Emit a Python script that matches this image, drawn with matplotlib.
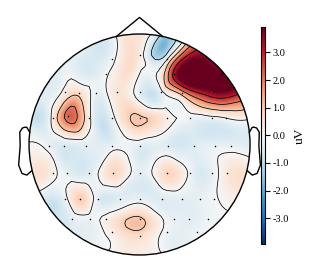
import numpy as np
import matplotlib
matplotlib.use("Agg")
import matplotlib.pyplot as plt
import matplotlib.tri as mtri
from matplotlib.patches import Circle

plt.rcParams['font.family'] = ['Liberation Serif', 'DejaVu Serif']
plt.rcParams['axes.unicode_minus'] = False

# sensor layout (head radius = 1, nose up) and amplitudes in uV
ch_names = ['Fp1', 'Fpz', 'Fp2', 'AF3', 'AF4', 'AF8',
            'F7', 'F5', 'F3', 'F1', 'Fz', 'F2', 'F4', 'F8',
            'FT7', 'FC5', 'FC3', 'FC1', 'FCz', 'FC2', 'FC4', 'FC6', 'FT8',
            'T7', 'C5', 'C3', 'C1', 'Cz', 'C2', 'C4', 'C6', 'T8',
            'TP7', 'CP5', 'CP3', 'CP1', 'CPz', 'CP2', 'CP4', 'CP6', 'TP8',
            'P7', 'P5', 'P3', 'P1', 'Pz', 'P2', 'P4', 'P6', 'P8',
            'PO7', 'PO5', 'PO3', 'POz', 'PO4', 'PO6', 'PO8',
            'O1', 'Oz', 'O2', 'PO10']
ch_x = [-0.25, 0.00, 0.25, -0.30, 0.31, 0.74,
        -0.67, -0.55, -0.39, -0.20, 0.00, 0.19, 0.38, 0.67,
        -0.78, -0.65, -0.46, -0.25, 0.00, 0.25, 0.46, 0.66, 0.78,
        -0.82, -0.68, -0.48, -0.25, 0.00, 0.26, 0.49, 0.68, 0.83,
        -0.78, -0.66, -0.46, -0.24, 0.00, 0.25, 0.46, 0.66, 0.79,
        -0.67, -0.54, -0.38, -0.18, 0.00, 0.20, 0.38, 0.55, 0.67,
        -0.61, -0.45, -0.30, 0.00, 0.31, 0.45, 0.62,
        -0.25, 0.00, 0.25, 0.52]
ch_y = [0.77, 0.81, 0.77, 0.64, 0.64, 0.64,
        0.475, 0.47, 0.47, 0.475, 0.475, 0.475, 0.47, 0.485,
        0.24, 0.26, 0.24, 0.24, 0.24, 0.24, 0.24, 0.24, 0.24,
        -0.01, -0.01, -0.01, -0.01, -0.01, -0.01, -0.01, -0.01, -0.01,
        -0.26, -0.26, -0.26, -0.26, -0.26, -0.26, -0.26, -0.26, -0.26,
        -0.49, -0.49, -0.49, -0.49, -0.49, -0.49, -0.49, -0.49, -0.49,
        -0.67, -0.67, -0.67, -0.67, -0.67, -0.67, -0.67,
        -0.79, -0.83, -0.79, -0.79]
ch_val = [-0.2, 0.4, 0.0, -0.1, 3.2, 3.93,
          0.3, 0.7, -0.3, 0.5, -0.4, -0.3, 1.5, 3.9,
          0.35, 2.3, 0.3, -0.3, 1.1, 0.3, -0.2, -0.2, 0.0,
          -0.25, -0.6, -0.4, -0.3, -0.4, -0.5, -0.5, -0.3, -0.3,
          0.2, -0.3, -0.5, 0.8, -0.4, 0.85, -0.2, -0.3, 0.4,
          -0.2, 1.0, -0.4, -0.5, -0.3, -0.5, -0.4, -0.3, -0.1,
          -0.4, -0.2, 0.2, 1.1, -0.3, -0.4, -0.2,
          0.3, 0.7, -0.2, -0.2]

cbar_ticks = [-3, -2, -1, 0, 1, 2, 3]
contour_levels = [-3, -2, -1, 0, 1, 2, 3]
unit = 'uV'

pos = np.column_stack([ch_x, ch_y])
vals = np.array(ch_val)
n = len(pos)

# extra points on a ring around the head, value = mean of neighbouring sensors
tri0 = mtri.Triangulation(pos[:, 0], pos[:, 1])
e0 = tri0.edges
dist = np.median(np.hypot(*(pos[e0[:, 0]] - pos[e0[:, 1]]).T))
ring_r = 1.0 + dist / 2
n_ring = max(12, int(round(2 * np.pi * ring_r / dist)))
ang = np.linspace(0, 2 * np.pi, n_ring, endpoint=False)
ring = np.column_stack([np.cos(ang), np.sin(ang)]) * ring_r
allpos = np.vstack([pos, ring])
tri = mtri.Triangulation(allpos[:, 0], allpos[:, 1])
e = tri.edges
ring_vals = np.zeros(n_ring)
for k in range(n_ring):
    i = n + k
    nb = np.concatenate([e[e[:, 0] == i, 1], e[e[:, 1] == i, 0]])
    nb = nb[nb < n]
    if len(nb) == 0:
        nb = [np.argmin(np.hypot(*(pos - allpos[i]).T))]
    ring_vals[k] = vals[nb].mean()
allvals = np.concatenate([vals, ring_vals])

interp = mtri.CubicTriInterpolator(tri, allvals, kind='min_E')
res = 64
xi = np.linspace(-1, 1, res)
Xi, Yi = np.meshgrid(xi, xi)
Zi = interp(Xi, Yi)

fig = plt.figure(figsize=(3.19, 2.63), dpi=100)
ax = fig.add_axes([1.4 / 319, 2.5 / 263, 276.25 / 319, 248.6 / 263])
ax.set_xlim(-1.25, 1.25)
ax.set_ylim(-1.05, 1.2)
ax.axis('off')

vmax = np.abs(vals).max()
h = 1.0 / (res - 1)
im = ax.imshow(Zi, origin='lower', extent=(-1 - h, 1 + h, -1 - h, 1 + h),
               cmap='RdBu_r', vmin=-vmax, vmax=vmax,
               interpolation='bilinear', aspect='auto')
clip = Circle((0, 0), 1, transform=ax.transData)
im.set_clip_path(clip)
cs = ax.contour(Xi, Yi, Zi, levels=contour_levels, colors='k',
                linewidths=0.55, linestyles='solid')
cs.set_clip_path(clip)

ax.scatter(ch_x, ch_y, s=1.2, c='k', linewidths=0, zorder=3)

# head, nose, ears
ax.add_patch(Circle((0, 0), 1, fill=False, ec='k', lw=1.0))
ax.plot([-0.2094, 0, 0.2094], [0.978, 1.15, 0.978], 'k', lw=1.0)
ear_x = np.array([.497, .510, .518, .5299, .5419, .54, .547, .532, .510, .489]) * 2
ear_y = np.array([.0555, .0775, .0783, .0746, .0555, -.0055, -.0932, -.1313, -.1384, -.1199]) * 2
ax.plot(ear_x, ear_y, 'k', lw=1.0)
ax.plot(-ear_x, ear_y, 'k', lw=1.0)

cax = fig.add_axes([260.7 / 319, (263 - 244) / 263, 4.6 / 319, 217.3 / 263])
cb = fig.colorbar(im, cax=cax, ticks=cbar_ticks, format='%.1f')
cb.set_label(unit, fontsize=9.5)
cb.ax.tick_params(labelsize=7.5, length=3.5, width=0.8, pad=1.5)
cb.outline.set_linewidth(0.8)

fig.savefig('out.png', dpi=100)
